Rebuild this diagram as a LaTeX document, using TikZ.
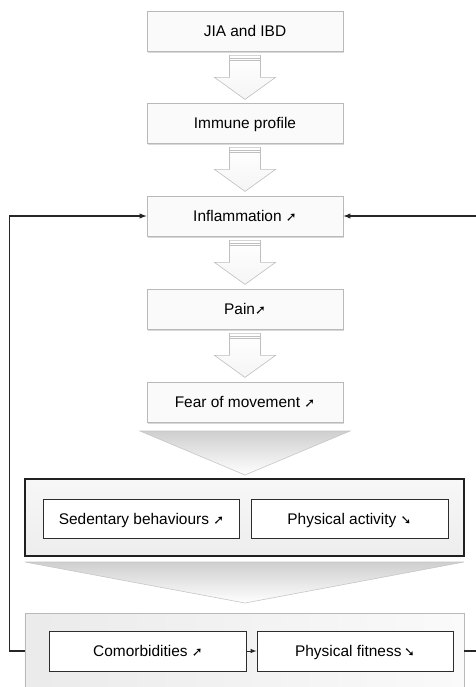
\documentclass[tikz,border=0pt]{standalone}
\usepackage{fontspec}
\setmainfont{Liberation Sans}
\newfontfamily\symfont{DejaVu Sans}
\usepackage{tikz}
\usetikzlibrary{calc}
\usetikzlibrary{arrows}
\usetikzlibrary{shadows}
\newcommand{\uparr}{{\symfont\fontsize{13}{13}\selectfont ➚}}
\newcommand{\downarr}{{\symfont\fontsize{13}{13}\selectfont ➘}}
\tikzset{box/.style={draw=gray!55, fill=gray!4, line width=.8bp, minimum width=196bp, minimum height=40bp, inner sep=0pt, text height=13bp, text depth=2bp, font=\fontsize{15.5}{18}\selectfont, drop shadow={shadow xshift=.8bp, shadow yshift=-1.8bp, opacity=.3}}}
\tikzset{innerbox/.style={draw=gray!35!black, fill=white, line width=1bp, minimum width=195bp, minimum height=39bp, inner sep=0pt, text height=13bp, text depth=2bp, font=\fontsize{15.5}{18}\selectfont}}
\tikzset{blockarrow/.style={draw=gray!50, top color=white, bottom color=gray!8, line width=.6bp}}
\tikzset{chevron/.style={draw=gray!45, top color=gray!38, bottom color=white, line width=.6bp}}
\tikzset{feedback/.style={draw=gray!30!black, line width=1.4bp, -latex}}

\begin{document}
\begin{tikzpicture}[x=1bp,y=-1bp]
  \clip (0,0) rectangle (476,687);
  \fill[white] (0,0) rectangle (476,687);
  \foreach \y/\name/\txt in {
    31/jia/JIA and IBD,
    123/immune/Immune profile,
    216/infl/Inflammation \uparr,
    309/pain/Pain\uparr,
    402/fear/Fear of movement \uparr%
  } {
    \node[box] (\name) at (245, \y) {\txt};
  }
  \foreach \a in {jia, immune, infl, pain} {
    \coordinate (t) at ($(\a.south)+(0,4)$);
    \draw[blockarrow] (t) ++(-15.5,0) -- ++(31,0) -- ++(0,22) -- ++(15,0)
      -- ++(-30.5,22) -- ++(-30.5,-22) -- ++(15,0) -- cycle;
    \draw[gray!50, line width=.5bp] (t) ++(-15.5,2.5) -- ++(31,0);
    \draw[gray!50, line width=.5bp] (t) ++(-15.5,5) -- ++(31,0);
  }
  \draw[chevron] (140,431) -- (350,431) -- (245,475) -- cycle;
  \node[draw=gray!25!black, line width=1.6bp, top color=gray!6, bottom color=gray!14,
    minimum width=439bp, minimum height=77bp, inner sep=0pt] (sedgroup) at (244.5,517.5) {};
  \node[innerbox] (sed) at (141.5,518.5) {Sedentary behaviours \uparr};
  \node[innerbox, minimum width=197bp] (act) at (349.5,518.5) {Physical activity \downarr};
  \draw[chevron] (25,562) -- (464,562) -- (245,603) -- cycle;
  \node[draw=gray!55, line width=.8bp, left color=gray!16, right color=gray!4,
    minimum width=439bp, minimum height=94bp, inner sep=0pt] (fitgroup) at (244.5,660) {};
  \node[innerbox, minimum width=196bp, minimum height=40bp] (comorb) at (148,651) {Comorbidities \uparr};
  \node[innerbox, minimum width=196bp, minimum height=40bp] (fitness) at (355,651) {Physical fitness\,\downarr};
  \draw[feedback, line width=1bp] (comorb) -- (fitness);
  \draw[feedback] (fitgroup.west |- comorb) -- ++(-15,0) |- (infl.west);
  \draw[feedback] (fitgroup.east |- fitness) -- ++(16,0) |- (infl.east);
\end{tikzpicture}
\end{document}
